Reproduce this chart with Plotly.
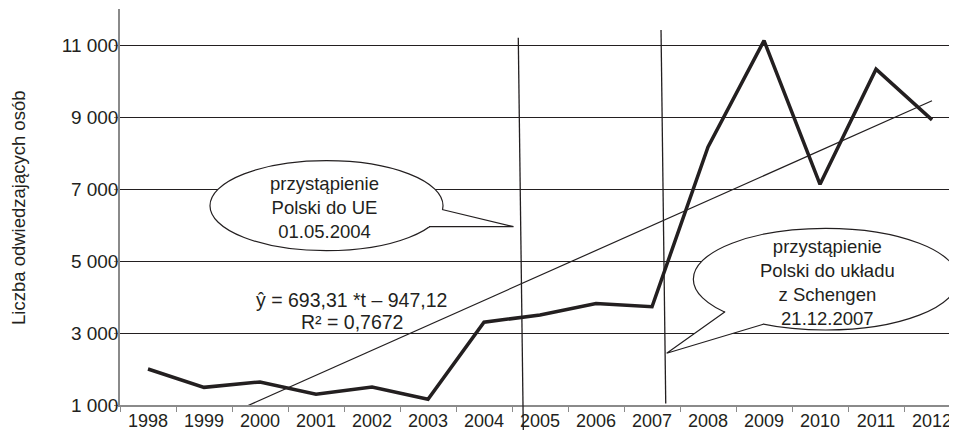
import plotly.graph_objects as go

# ---- data ----
years = list(range(1998, 2013))
visitors = [2000, 1490, 1640, 1300, 1500, 1160, 3300, 3500, 3820, 3730,
            8170, 11120, 7130, 10330, 8920]
# linear trend  ŷ = 693,31*t − 947,12  evaluated at t=1 (1998) and t=15 (2012)
trend_years = [1998, 2012]
trend_values = [-253.8, 9452.5]
y_tick_values = [1000, 3000, 5000, 7000, 9000, 11000]
y_tick_labels = ["1 000", "3 000", "5 000", "7 000", "9 000", "11 000"]
year_labels = [str(y) for y in years]
year_boundaries = [y - 0.5 for y in years] + [years[-1] + 0.5]

INK = "#231f20"
AXIS = "#8a8a8a"
FONT = "Liberation Sans"

fig = go.Figure()
fig.add_trace(go.Scatter(x=trend_years, y=trend_values, mode="lines",
                         line=dict(color=INK, width=1.2), showlegend=False,
                         hoverinfo="skip"))
fig.add_trace(go.Scatter(x=years, y=visitors, mode="lines",
                         line=dict(color=INK, width=3.5), showlegend=False))

shapes = []
# vertical event lines
shapes.append(dict(type="line", xref="x", yref="paper", x0=2004.612, y0=0.9275,
                   x1=2004.702, y1=-0.063, line=dict(color=INK, width=1.3)))
shapes.append(dict(type="line", xref="x", yref="paper", x0=2007.161, y0=0.947,
                   x1=2007.245, y1=0.004, line=dict(color=INK, width=1.3)))

def bubble(ell, a, tip, b, c):
    out = [dict(type="circle", xref="x", yref="y", x0=ell[0], x1=ell[1],
                y0=ell[2], y1=ell[3], fillcolor="white",
                line=dict(color=INK, width=1.2))]
    out.append(dict(type="path", xref="x", yref="y",
                    path=f"M {a[0]},{a[1]} L {tip[0]},{tip[1]} L {b[0]},{b[1]} L {c[0]},{c[1]} Z",
                    fillcolor="white", line=dict(width=0)))
    out.append(dict(type="path", xref="x", yref="y",
                    path=f"M {a[0]},{a[1]} L {tip[0]},{tip[1]} L {b[0]},{b[1]}",
                    line=dict(color=INK, width=1.2)))
    return out

shapes += bubble((1999.107, 2003.268, 5286, 7786),
                 (2003.25, 6431), (2004.527, 5953), (2003.018, 5953), (2002.68, 6278))
shapes += bubble((2007.738, 2012.464, 3083, 5908),
                 (2008.304, 3592), (2007.262, 2436), (2008.988, 3242), (2008.75, 3917))

txt = dict(family=FONT, size=18.5, color=INK)
eqf = dict(family=FONT, size=19.5, color=INK)
common = dict(showarrow=False, xanchor="center", yanchor="middle")
annotations = [
    dict(text="przystąpienie<br>Polski do UE<br>01.05.2004", x=2001.15, y=6478,
         xref="x", yref="y", font=txt, **common),
    dict(text="przystąpienie<br>Polski do układu<br>z Schengen<br>21.12.2007",
         x=2010.125, y=4403, xref="x", yref="y", font=txt, **common),
    dict(text="ŷ = 693,31 *t – 947,12", x=2001.64, y=3917, xref="x", yref="y",
         font=eqf, **common),
    dict(text="R² = 0,7672", x=2001.65, y=3314, xref="x", yref="y", font=eqf,
         **common),
    dict(text="Liczba odwiedzających osób", x=-0.1213, y=0.4987, xref="paper",
         yref="paper", textangle=-90, font=txt, **common),
]

# the page body has an 8px margin, so the figure is sized/offset to compensate
fig.update_layout(
    width=949, height=424,
    margin=dict(l=112, r=0, t=1, b=27, pad=0),
    paper_bgcolor="white", plot_bgcolor="white",
    font=dict(family=FONT, size=18, color=INK),
    shapes=shapes, annotations=annotations, showlegend=False,
    xaxis=dict(range=[1997.5, 2012.446], tickmode="array", tickvals=years,
               ticktext=year_labels, ticks="", showgrid=False, zeroline=False,
               showline=True, linecolor=AXIS, linewidth=1.5, automargin=False,
               ticklabelstandoff=-1,
               tickfont=dict(family=FONT, size=18, color=INK),
               minor=dict(tickmode="array", tickvals=year_boundaries, ticks="outside",
                          ticklen=5, tickcolor=AXIS, tickwidth=1.3, showgrid=False)),
    yaxis=dict(range=[1000, 12000], tickmode="array", tickvals=y_tick_values,
               ticktext=y_tick_labels, ticks="outside", ticklen=4, tickcolor=AXIS,
               tickwidth=1.3, showgrid=True, gridcolor=INK, gridwidth=1,
               zeroline=False, showline=True, linecolor=AXIS, linewidth=1.5,
               automargin=False, ticklabelstandoff=-8,
               tickfont=dict(family=FONT, size=19, color=INK)),
)

fig.write_html("out.html")
